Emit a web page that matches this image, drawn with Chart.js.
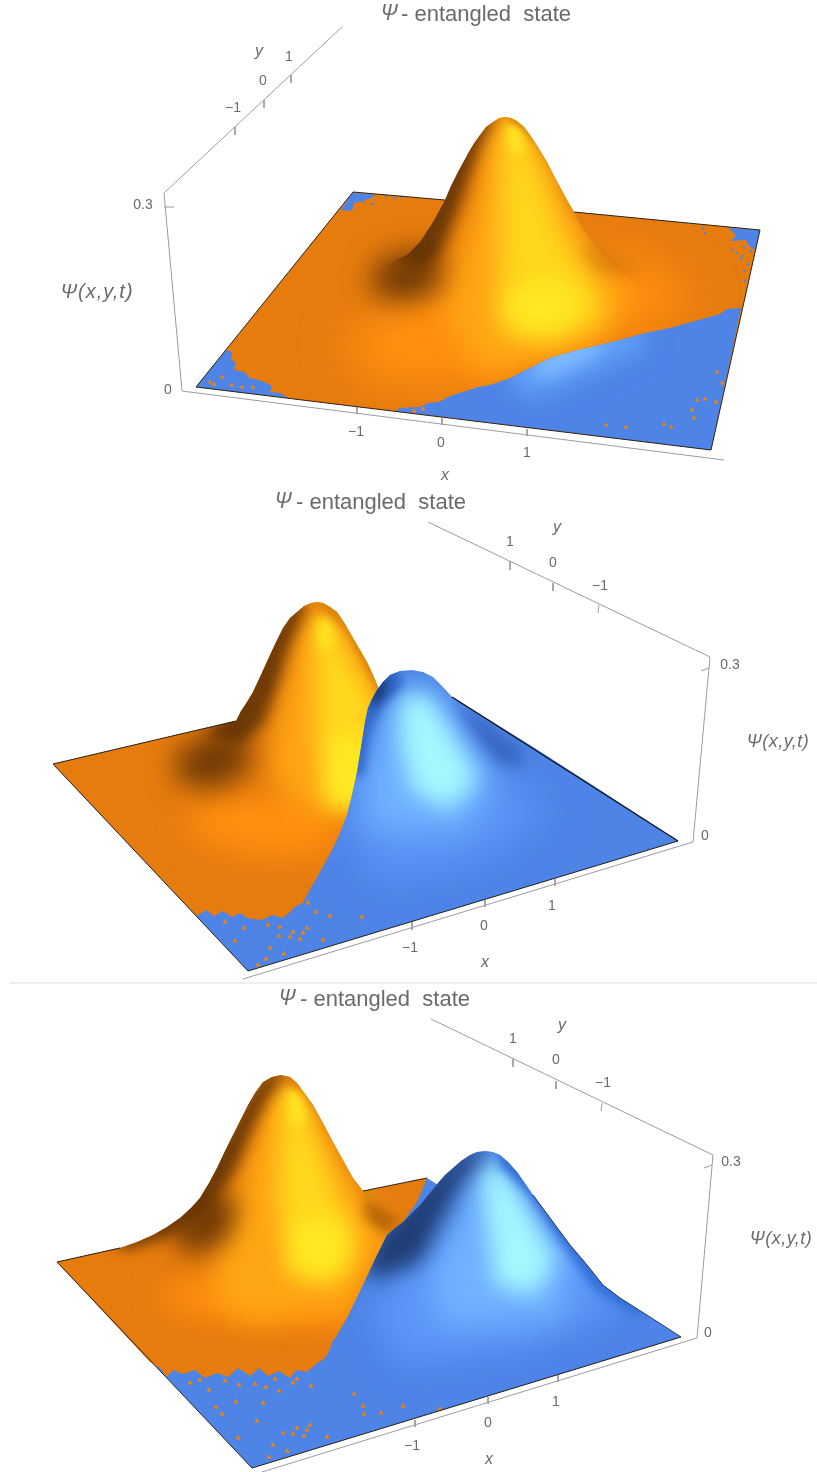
<!DOCTYPE html>
<html><head><meta charset="utf-8">
<script src="https://cdn.jsdelivr.net/npm/chart.js@4"></script>
<style>html,body{margin:0;padding:0;background:#fff}canvas{display:block}</style>
</head><body><canvas id="c" width="817" height="1472"></canvas>
<script>
const ORANGE='#E67C0E', BLUE='#4D84E6', AXIS='#9c9c9c', EDGE='#2a2118', TEXT='#6a6a6a';
const AMBER='#FFA614', GLOW='#FF9010', YELLOW='#FFD61E', HOT='#FFEA22', BROWN='#6E3A06', DEEP='rgba(92,46,4,.85)', RIM='#D9860E';
/* ---------- panel 1 ---------- */
const p1Floor=[[353,192],[196,387],[711,450],[760,230]];
const p1Peak=[[445,200],[451,186],[458,172],[464,161],[470,150],[475,142],[480,135],[486,127],[493,122],[499,118],[505,117],[511,118],[517,121],[524,127],[530,135],[538,147],[547,162],[553,174],[560,187],[567,200],[574,212]];
const p1Surface=[[353,192],...p1Peak,[760,230],[711,450],[196,387]];
const p1Hump=[...p1Peak,[587,235],[603,255],[640,290],[720,330],[520,400],[300,380],[385,265],[407,255],[420,242],[433,222]];
const p1Blue=[[396,411],[399,408],[420,407],[428,403],[439,402],[450,396],[466,391],[478,387],[490,385],[508,379],[530,368],[550,358],[578,350],[600,345],[620,340],[645,333],[670,328],[695,321],[720,314],[727,309],[741,308],[711,450]];
const p1BlueLeft=[[226,350],[232,352],[231,360],[236,362],[234,370],[244,372],[250,378],[262,381],[272,386],[270,392],[280,393],[289,398],[196,387]];
const p1BlueBack=[[352,193],[341,210],[352,211],[354,203],[366,200],[376,196],[370,194]];
const p1BlueRight=[[728,228],[760,230],[755,250],[749,246],[746,240],[731,241],[736,235]];
const p1Glow=[[340,345],[420,280],[520,240],[640,255],[700,300],[600,350],[480,385],[380,385]];
const p1Amber=[[445,310],[475,200],[495,118],[520,118],[572,210],[630,295],[590,350],[480,375]];
const p1Yellow=[[503,125],[524,125],[545,180],[563,235],[592,280],[606,318],[545,342],[498,328],[500,250],[500,180]];
const p1Hot=[[510,288],[558,278],[588,310],[555,332],[512,328]];
const p1Top=[[505,124],[520,124],[525,152],[510,154]];
const p1Flank=[[488,108],[465,130],[440,170],[420,205],[400,235],[385,255],[420,268],[438,258],[448,235],[460,205],[468,180],[478,150],[486,132],[492,122]];
const p1Blob=[[375,262],[420,248],[440,255],[442,288],[410,302],[372,296]];
const p1Rim=[[508,110],[520,110],[545,130],[570,170],[590,210],[610,245],[602,250],[574,212],[558,178],[540,148],[524,130],[509,120]];
const p1Crease=[[590,240],[605,256],[642,268],[625,274],[600,270],[585,252]];
const p1Sky=[[500,370],[560,330],[630,320],[650,345],[590,375],[530,400]];
const p1SkyHot=[[530,365],[570,340],[610,335],[590,358],[545,378]];
const p1OrangeSpecks=[[214,384],[232,385],[242,387],[222,377],[253,387],[210,382],[606,425],[626,427],[664,424],[671,427],[692,410],[697,400],[694,418],[716,402],[722,383],[705,399],[717,372],[423,409],[414,411]];
const p1BlueSpecks=[[386,196],[394,198],[401,197],[363,202],[372,204],[703,228],[705,233],[744,247],[751,251],[732,250],[742,256],[748,264],[741,259],[744,271],[745,281],[737,253]];
/* ---------- panel 2 ---------- */
const p2Floor=[[53,764],[248,971],[678,841],[452,697],[236,721]];
const p2Orange=[[53,764],[236,721],[241,711],[247,702],[253,692],[260,677],[270,655],[276,642],[283,628],[290,618],[297,612],[304,606],[311,603],[317,602],[323,603],[330,607],[337,612],[345,624],[353,638],[360,650],[367,662],[373,675],[378,687],[420,760],[317,883],[303,903],[296,906],[290,912],[283,918],[272,915],[262,920],[247,918],[240,913],[232,917],[223,911],[214,916],[206,910],[197,916],[192,911]];
const p2BlueHill=[[678,841],[597,788],[530,745],[452,697],[443,687],[433,677],[423,672],[412,670],[400,671],[390,675],[383,682],[377,690],[372,699],[368,708],[365,722],[363,735],[360,754],[357,772],[352,795],[347,815],[340,833],[333,848],[320,872],[308,893],[303,903],[248,971]];
const p2OGlow=[[190,805],[250,792],[340,800],[340,850],[270,858],[195,840]];
const p2OAmber=[[275,730],[298,630],[315,605],[345,615],[380,690],[370,820],[300,810],[270,775]];
const p2OYellow=[[314,620],[330,620],[350,660],[375,700],[375,800],[325,805],[316,720],[316,665]];
const p2OHot=[[330,740],[368,735],[368,805],[330,805]];
const p2OTop=[[316,620],[330,620],[335,645],[320,650]];
const p2OFlank=[[296,597],[275,625],[250,670],[225,715],[205,735],[240,745],[263,725],[276,690],[288,650],[298,625],[306,608]];
const p2OBlob=[[178,750],[225,728],[252,745],[243,778],[205,790],[175,778]];
const p2ORim=[[320,592],[345,600],[365,630],[385,680],[379,692],[362,660],[345,630],[328,612],[318,605]];
const p2BGlow=[[335,800],[400,760],[490,770],[550,810],[480,860],[380,880]];
const p2BSky=[[385,710],[410,680],[445,700],[495,780],[465,830],[370,830],[365,770]];
const p2BCyan=[[402,695],[427,695],[450,730],[478,780],[448,810],[412,790],[400,735]];
const p2BCrease=[[455,700],[480,718],[522,750],[522,768],[498,762],[478,738]];
const p2BShade=[[395,662],[372,682],[358,720],[350,775],[363,775],[370,730],[383,705],[403,685]];
const p2BNavy=[[385,672],[368,695],[374,708],[388,690]];
const p2OrangeSpecks=[[225,922],[235,941],[270,948],[284,954],[266,959],[258,965],[279,936],[290,937],[293,932],[303,933],[307,928],[300,939],[316,912],[330,916],[362,917],[323,940],[280,927],[308,903],[268,925],[244,928]];
/* ---------- panel 3 ---------- */
const p3Floor=[[57,1262],[252,1468],[681,1337],[427,1178]];
const p3Orange=[[57,1262],[120,1248],[137,1242],[153,1235],[167,1227],[180,1218],[191,1208],[200,1198],[209,1183],[217,1168],[225,1151],[233,1135],[241,1119],[248,1105],[255,1093],[263,1082],[272,1077],[281,1075],[290,1077],[297,1083],[305,1094],[313,1105],[323,1123],[333,1142],[343,1160],[353,1178],[363,1191],[427,1178],[417,1202],[403,1222],[390,1300],[333,1340],[327,1357],[316,1364],[307,1372],[296,1370],[290,1378],[279,1371],[268,1376],[259,1368],[250,1376],[238,1368],[228,1377],[217,1373],[205,1378],[195,1370],[183,1374],[173,1370],[167,1377],[160,1368],[150,1362]];
const p3BlueHill=[[681,1337],[650,1317],[620,1298],[603,1285],[587,1265],[570,1245],[550,1218],[533,1195],[517,1172],[508,1162],[500,1155],[493,1152],[485,1151],[477,1152],[470,1155],[461,1161],[453,1168],[445,1175],[438,1183],[420,1205],[403,1222],[395,1228],[387,1235],[382,1245],[377,1255],[363,1285],[347,1318],[333,1342],[327,1355],[307,1378],[252,1468]];
const p3OGlow=[[160,1285],[240,1272],[370,1290],[350,1325],[260,1325],[170,1310]];
const p3OAmber=[[212,1290],[245,1170],[272,1085],[295,1085],[340,1160],[395,1235],[350,1310],[240,1320]];
const p3OYellow=[[282,1090],[300,1090],[325,1160],[352,1235],[345,1278],[295,1278],[278,1200],[280,1140]];
const p3OHot=[[290,1222],[338,1218],[352,1250],[330,1278],[292,1270]];
const p3OTop=[[285,1092],[300,1092],[307,1122],[292,1126]];
const p3OFlank=[[285,1062],[255,1085],[225,1135],[195,1180],[150,1220],[110,1240],[125,1250],[165,1238],[210,1212],[235,1170],[254,1125],[268,1097],[280,1080]];
const p3OBlob=[[170,1230],[212,1195],[238,1200],[228,1238],[188,1256]];
const p3OCrease=[[365,1197],[385,1210],[402,1222],[385,1234],[365,1218]];
const p3ORim=[[283,1066],[300,1068],[325,1105],[355,1160],[375,1195],[366,1196],[347,1160],[324,1120],[302,1090],[284,1079]];
const p3BGlow=[[370,1310],[430,1240],[570,1240],[620,1310],[520,1350],[400,1365]];
const p3BSky=[[430,1280],[470,1170],[510,1170],[572,1260],[560,1320],[440,1325]];
const p3BCyan=[[480,1165],[500,1165],[522,1200],[555,1260],[535,1295],[495,1285],[488,1220]];
const p3BShade=[[480,1140],[440,1170],[400,1210],[375,1240],[365,1262],[372,1280],[420,1262],[438,1225],[462,1180],[480,1160]];
const p3BRim=[[500,1140],[530,1165],[570,1230],[610,1285],[650,1310],[635,1315],[595,1290],[560,1240],[530,1195],[500,1165]];
const p3OrangeSpecks=[[209,1390],[239,1385],[266,1387],[279,1391],[311,1386],[354,1394],[363,1406],[364,1414],[381,1413],[403,1406],[440,1409],[236,1402],[263,1403],[222,1414],[216,1407],[257,1421],[238,1438],[283,1433],[293,1434],[297,1428],[307,1430],[310,1425],[304,1436],[273,1445],[287,1451],[269,1457],[327,1437],[200,1380],[255,1384],[190,1383],[225,1381],[293,1383],[297,1379],[275,1379]];
/* ---------- axes ---------- */
const p1Axes=[[[342,27],[164,193],[182,391],[724,460]]];
const p1Ticks=[[[235,127],[235,135]],[[264,100],[264,108]],[[291,75],[291,83]],[[164,207],[174,207]],[[357,407],[357,414]],[[442,418],[442,425]],[[527,429],[527,436]]];
const p2Axes=[[[428,522],[710,657],[693,842],[243,979]]];
const p2Ticks=[[[510,561],[510,570]],[[553,583],[553,591]],[[599,605],[598,613]],[[709,668],[701,671]],[[412,922],[412,930]],[[485,900],[485,907]],[[555,879],[555,886]]];
const p3Axes=[[[431,1019],[713,1155],[697,1338],[262,1472]]];
const p3Ticks=[[[513,1059],[513,1067]],[[556,1081],[556,1089]],[[602,1103],[601,1111]],[[712,1165],[704,1168]],[[415,1420],[415,1427]],[[488,1397],[488,1404]],[[558,1375],[558,1382]]];
const separator=[[10,983],[817,983]];
/* text: string, x, y */
const titleParts=[['Ψ',389,14],['- entangled  state',486,15],['Ψ',283,502],['- entangled  state',381,503],['Ψ',287,999],['- entangled  state',385,1000]];
const tickLabels=[['−1',233,108],['0',263,81],['1',289,57],['0.3',143,205],['0',168,390],['−1',356,432],['0',441,443],['1',527,453],
['1',510,542],['0',553,563],['−1',600,586],['0.3',730,665],['0',705,836],['−1',410,948],['0',484,926],['1',552,906],
['1',513,1039],['0',556,1060],['−1',603,1083],['0.3',731,1162],['0',708,1333],['−1',412,1446],['0',488,1423],['1',556,1402]];
const axisLetters=[['y',259,52],['x',445,476],['y',557,528],['x',485,963],['y',562,1026],['x',489,1460]];
const psiLabels=[['Ψ(x,y,t)',778,742],['Ψ(x,y,t)',781,1239]];
const psiLabelLarge=[['Ψ(x,y,t)',97,292]];

const xy=a=>a.map(([x,y])=>({x,y}));
const base={showLine:true,pointRadius:0,borderWidth:0,borderColor:'transparent',tension:0};
const shape=(data,color,blur,clip)=>({...base,data:xy(data),fill:'shape',backgroundColor:color,blur,clipShape:clip});
const line=(data,color,w)=>({...base,data:xy(data),fill:false,borderColor:color,borderWidth:w});
const dots=(data,color,style,r)=>({data:xy(data),showLine:false,pointStyle:style,pointRadius:r,pointBorderWidth:0,borderWidth:0,backgroundColor:color,pointBackgroundColor:color,fill:false});

const layers=[
 line(separator,'#dcdcdc',1),
 /* panel 1 */
 ...p1Axes.map(a=>line(a,AXIS,1)),...p1Ticks.map(a=>line(a,AXIS,1)),
 shape(p1Surface,ORANGE),
 shape(p1Glow,GLOW,22,p1Surface),
 shape(p1Amber,AMBER,13,p1Hump),
 shape(p1Yellow,YELLOW,13,p1Hump),
 shape(p1Hot,HOT,13,p1Hump),
 shape(p1Top,'#FFE422',5,p1Hump),
 shape(p1Rim,RIM,3,p1Hump),
 shape(p1Flank,BROWN,7,p1Hump),
 shape(p1Blob,DEEP,14,p1Surface),
 shape(p1Crease,'rgba(176,96,8,.55)',9,p1Surface),
 shape(p1Blue,BLUE),
 shape(p1Sky,'#62A0FA',12,p1Blue),
 shape(p1SkyHot,'#80BCFF',8,p1Blue),
 shape(p1BlueLeft,BLUE),shape(p1BlueBack,BLUE),shape(p1BlueRight,BLUE),
 dots(p1OrangeSpecks,'#EE820F','triangle',2.8),
 dots(p1BlueSpecks,BLUE,'rect',1.6),
 line(p1Floor.slice(0,2),EDGE,1),line([p1Floor[1],p1Floor[2]],EDGE,1),line([p1Floor[2],p1Floor[3]],EDGE,1),
 line([p1Floor[3],[574,212]],EDGE,1),line([p1Floor[0],[445,200]],EDGE,1),
 /* panel 2 */
 ...p2Axes.map(a=>line(a,AXIS,1)),...p2Ticks.map(a=>line(a,AXIS,1)),
 shape(p2Floor,BLUE),
 shape(p2Orange,ORANGE),
 shape(p2OGlow,GLOW,16,p2Orange),
 shape(p2OAmber,AMBER,13,p2Orange),
 shape(p2OYellow,'#FFD81E',11,p2Orange),
 shape(p2OHot,HOT,11,p2Orange),
 shape(p2OTop,'#FFE422',5,p2Orange),
 shape(p2ORim,RIM,3,p2Orange),
 shape(p2OFlank,BROWN,7,p2Orange),
 shape(p2OBlob,DEEP,14,p2Orange),
 shape(p2BlueHill,BLUE),
 shape(p2BGlow,'#5C96F8',20,p2BlueHill),
 shape(p2BSky,'#6FB2FF',15,p2BlueHill),
 shape(p2BCyan,'#A4F8FF',11,p2BlueHill),
 shape(p2BCrease,'rgba(52,98,190,.85)',7,p2BlueHill),
 shape(p2BShade,'#2F66C8',5,p2BlueHill),
 shape(p2BNavy,'#1E3F7A',4,p2BlueHill),
 dots(p2OrangeSpecks,'#EE820F','triangle',3),
 line(p2Floor.slice(0,2),EDGE,1),line([p2Floor[1],p2Floor[2]],EDGE,1),line([p2Floor[2],[452,697]],'#111',1.3),line([p2Floor[0],p2Floor[4]],EDGE,1),
 /* panel 3 */
 ...p3Axes.map(a=>line(a,AXIS,1)),...p3Ticks.map(a=>line(a,AXIS,1)),
 shape(p3Floor,BLUE),
 shape(p3Orange,ORANGE),
 shape(p3OGlow,GLOW,15,p3Orange),
 shape(p3OAmber,AMBER,13,p3Orange),
 shape(p3OYellow,'#FFD81E',12,p3Orange),
 shape(p3OHot,HOT,12,p3Orange),
 shape(p3OTop,'#FFE422',5,p3Orange),
 shape(p3ORim,RIM,3,p3Orange),
 shape(p3OFlank,BROWN,7,p3Orange),
 shape(p3OBlob,DEEP,12,p3Orange),
 shape(p3OCrease,'rgba(168,90,8,.8)',6,p3Orange),
 shape(p3BlueHill,BLUE),
 shape(p3BGlow,'#5C96F8',16,p3BlueHill),
 shape(p3BSky,'#70B2FF',15,p3BlueHill),
 shape(p3BCyan,'#A4F8FF',11,p3BlueHill),
 shape(p3BRim,'#3470D8',4,p3BlueHill),
 shape(p3BShade,'#1F3D74',10,p3BlueHill),
 dots(p3OrangeSpecks,'#EE820F','triangle',3),
 line(p3Floor.slice(0,2),EDGE,1),line([p3Floor[1],p3Floor[2]],EDGE,1),line([[120,1248],p3Floor[0]],EDGE,1),line([[363,1191],[427,1178]],EDGE,1),
 line([[533,1195],[550,1218],[570,1245],[587,1265],[603,1285],[620,1298],[650,1317],[681,1337]],'#223a6a',1),
];
/* Chart.js paints the first dataset last, so the painter's order is reversed */
const datasets=layers.slice().reverse();

const shader={id:'shader',
 beforeDatasetDraw(chart,args){
  const ds=chart.data.datasets[args.index]; if(!ds.blur&&!ds.clipShape) return;
  const c=chart.ctx; c.save();
  if(ds.clipShape){const sx=chart.scales.x,sy=chart.scales.y;c.beginPath();
    ds.clipShape.forEach(([x,y],i)=>{const px=sx.getPixelForValue(x),py=sy.getPixelForValue(y);i?c.lineTo(px,py):c.moveTo(px,py)});c.closePath();c.clip();}
  if(ds.blur) c.filter='blur('+ds.blur+'px)';
 },
 afterDatasetDraw(chart,args){const ds=chart.data.datasets[args.index]; if(ds.blur||ds.clipShape) chart.ctx.restore();}
};
const textLayer={id:'textLayer',
 afterDatasetsDraw(chart){
  const c=chart.ctx,sx=chart.scales.x,sy=chart.scales.y;c.save();c.fillStyle=TEXT;c.textAlign='center';c.textBaseline='middle';
  const put=(list,fn,sp)=>list.forEach(([t,x,y])=>{c.font=fn(t);c.letterSpacing=sp||'0px';c.fillText(t,sx.getPixelForValue(x),sy.getPixelForValue(y))});
  put(titleParts,t=>t==='Ψ'?'italic 22px "Open Sans"':'22px "Liberation Sans"');
  put(tickLabels,()=>'14px "Liberation Sans"');
  put(axisLetters,()=>'italic 16px "Liberation Sans"');
  put(psiLabels,()=>'italic 18px "Liberation Sans"','0.5px');
  put(psiLabelLarge,()=>'italic 20px "Liberation Sans"','1px');
  c.restore();
 }};
const F=Chart.Filler||(Chart.plugins&&Chart.plugins.Filler);
if(F){Chart.unregister(F);Chart.register(shader);Chart.register(F);}
new Chart(document.getElementById('c'),{type:'scatter',data:{datasets},
 options:{responsive:false,animation:false,events:[],layout:{padding:0,autoPadding:false},
  scales:{x:{type:'linear',min:0,max:817,display:false},y:{type:'linear',min:0,max:1472,reverse:true,display:false}},
  plugins:{legend:{display:false},tooltip:{enabled:false},title:{display:false}}},
 plugins:[textLayer]});
</script></body></html>
